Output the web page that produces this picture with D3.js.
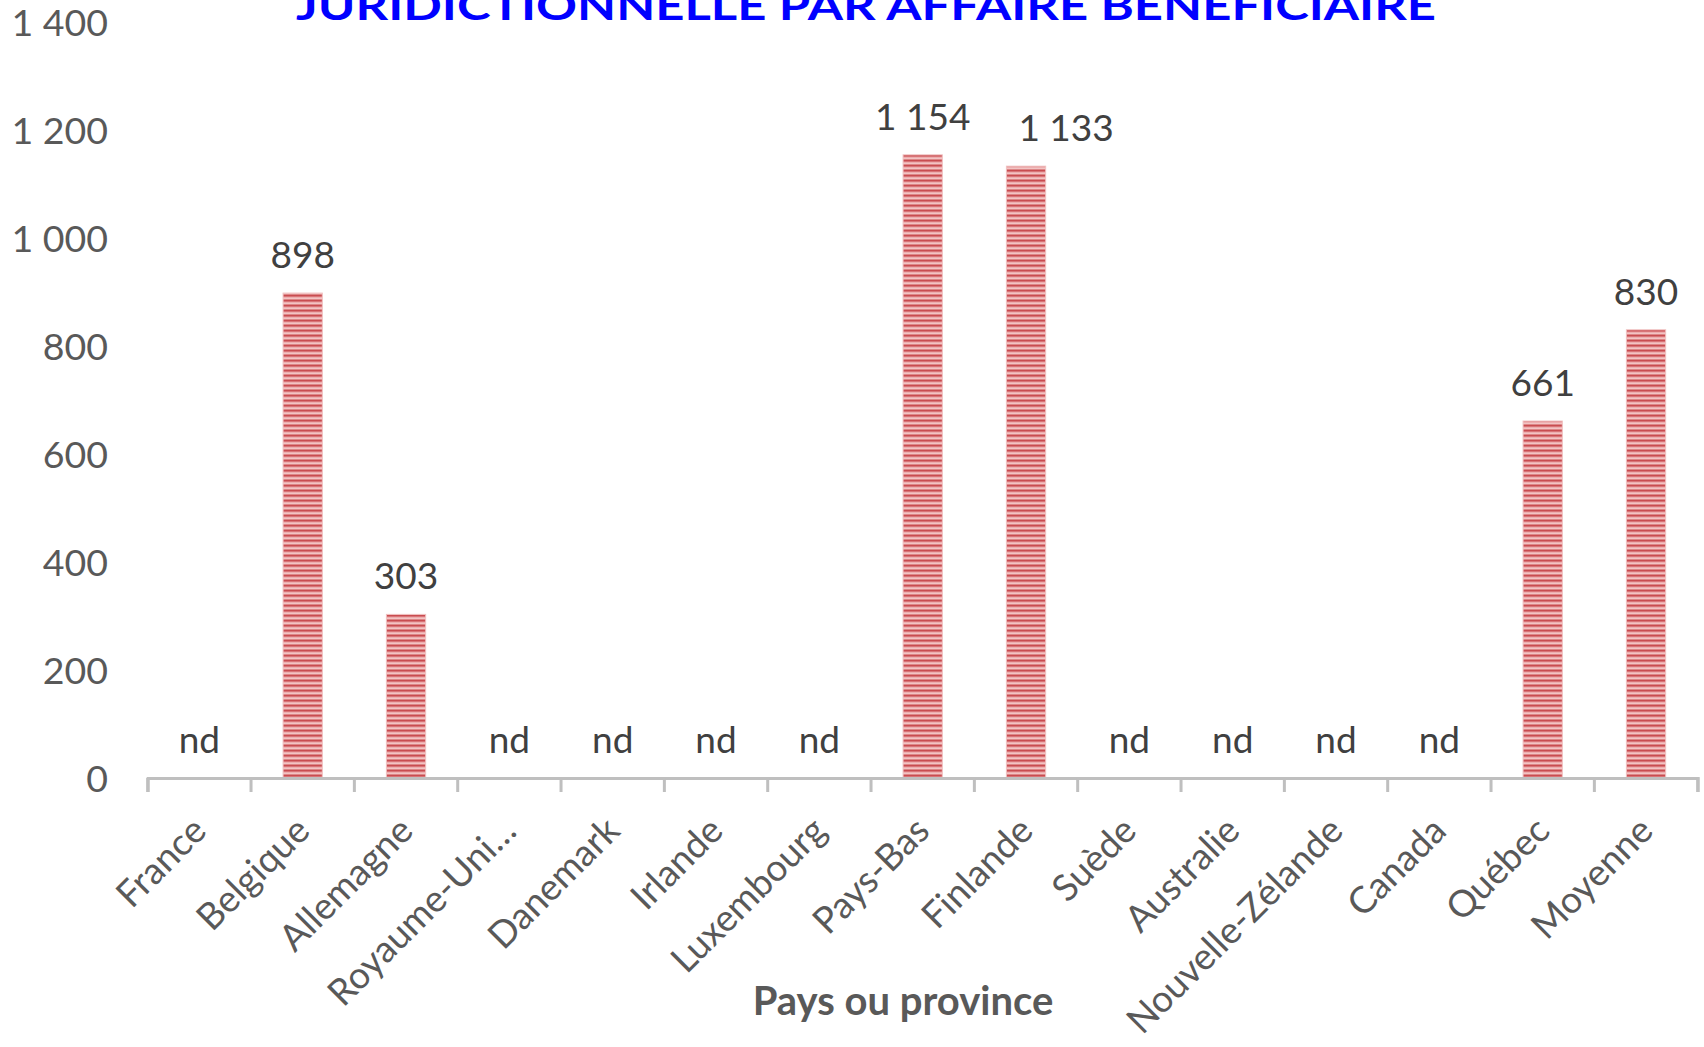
<!DOCTYPE html>
<html><head><meta charset="utf-8">
<script src="https://cdn.jsdelivr.net/npm/d3@7"></script>
<style>html,body{margin:0;padding:0;background:#fff;}</style>
</head><body>
<svg id="chart" width="1704" height="1047"></svg>
<script>
const categories = ["France","Belgique","Allemagne","Royaume-Uni…","Danemark","Irlande","Luxembourg","Pays-Bas","Finlande","Suède","Australie","Nouvelle-Zélande","Canada","Québec","Moyenne"];
const values = [null,898,303,null,null,null,null,1154,1133,null,null,null,null,661,830];
const labels = ["nd","898","303","nd","nd","nd","nd","1 154","1 133","nd","nd","nd","nd","661","830"];
const yTicks = [0,200,400,600,800,1000,1200,1400];
const titleText = "JURIDICTIONNELLE PAR AFFAIRE BÉNÉFICIAIRE";
const xTitle = "Pays ou province";

const svg = d3.select("#chart");
const font = "Lato, 'Open Sans', sans-serif";
const left = 147.7, right = 1697.7, y0 = 778, y1 = 22;

const defs = svg.append("defs");
const pat = defs.append("pattern").attr("id","stripes").attr("patternUnits","userSpaceOnUse")
  .attr("width",10).attr("height",5);
const stripeCols = ["#C94C50","#D87477","#EDAEAF","#F2C4C4","#DD8788"];
stripeCols.forEach((c,i)=>pat.append("rect").attr("x",0).attr("y",i).attr("width",10).attr("height",1).attr("fill",c));

const x = d3.scaleBand().domain(categories).range([left,right]).paddingInner(0.62).paddingOuter(0.31);
const xb = d3.scaleBand().domain(categories).range([left,right]);
const y = d3.scaleLinear().domain([0,1400]).range([y0,y1]);

// y tick labels
svg.append("g").selectAll("text").data(yTicks).join("text")
  .attr("x",108).attr("y",d=>y(d)).attr("dy","0.36em")
  .attr("text-anchor","end").attr("font-family",font).attr("font-size",37.5).attr("fill","#595959")
  .text(d=>d3.format(",")(d).replace(/,/g," "));

// bars
svg.append("g").selectAll("rect").data(categories.map((c,i)=>({c,v:values[i]})).filter(d=>d.v!=null)).join("rect")
  .attr("x",d=>x(d.c)).attr("width",x.bandwidth())
  .attr("y",d=>y(d.v)).attr("height",d=>y0-y(d.v))
  .attr("fill","url(#stripes)").attr("stroke","#F0C0C0").attr("stroke-width",1);

// x axis
const xAxis = d3.axisBottom(xb).tickSize(14).tickSizeOuter(14).tickFormat("");
const gx = svg.append("g").attr("transform",`translate(0,${y0})`).call(xAxis);
gx.select(".domain").attr("stroke","#BFBFBF").attr("stroke-width",3);
gx.selectAll(".tick").remove();
const bounds = [left].concat(categories.map(c=>xb(c)+xb.bandwidth()));
gx.selectAll("line.t").data(bounds).join("line").attr("class","t")
  .attr("x1",d=>d).attr("x2",d=>d).attr("y1",0).attr("y2",14)
  .attr("stroke","#BFBFBF").attr("stroke-width",3);

// category labels
svg.append("g").selectAll("text").data(categories).join("text")
  .attr("transform",d=>`translate(${xb(d)+xb.bandwidth()/2+9},${y0+55}) rotate(-45)`)
  .attr("text-anchor","end").attr("font-family",font).attr("font-size",37).attr("fill","#595959")
  .text(d=>d);

// data labels (Finlande label nudged right to avoid overlap, as in the original)
const nudge = c => c === "Finlande" ? 40 : 0;
svg.append("g").selectAll("text").data(categories.map((c,i)=>({c,v:values[i],l:labels[i]}))).join("text")
  .attr("x",d=>xb(d.c)+xb.bandwidth()/2+nudge(d.c))
  .attr("y",d=>y(d.v==null?0:d.v)-25)
  .attr("text-anchor","middle").attr("font-family",font).attr("font-size",37).attr("fill","#404040")
  .text(d=>d.l);

// title
svg.append("text").attr("x",866).attr("y",20).attr("text-anchor","middle")
  .attr("font-family",font).attr("font-weight","bold").attr("font-size",40).attr("fill","#0000FF")
  .attr("textLength",1140).attr("lengthAdjust","spacingAndGlyphs")
  .text(titleText);

// x axis title
svg.append("text").attr("x",903).attr("y",1015).attr("text-anchor","middle")
  .attr("font-family",font).attr("font-weight","bold").attr("font-size",40).attr("fill","#595959")
  .text(xTitle);
</script>
</body></html>
